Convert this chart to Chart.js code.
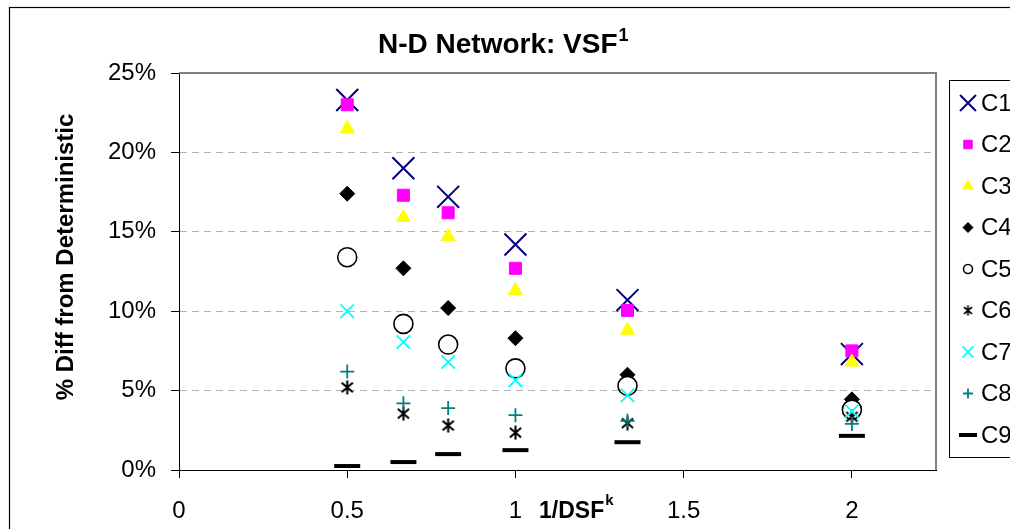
<!DOCTYPE html>
<html>
<head>
<meta charset="utf-8">
<script src="https://cdn.jsdelivr.net/npm/chart.js@4.4.0/dist/chart.umd.min.js"></script>
<style>
    html, body { margin: 0; padding: 0; background: #fff; overflow: hidden; }
    #wrap { width: 1010px; height: 529px; }
</style>
</head>
<body>
<div id="wrap"><canvas id="chart" width="1010" height="529"></canvas></div>
<script>
// 1/DSF values on the x axis
const xValues = [0.5, 0.667, 0.8, 1, 1.333, 2];
const seriesNames = ['C1', 'C2', 'C3', 'C4', 'C5', 'C6', 'C7', 'C8', 'C9'];
// % diff from deterministic, one array per series
const c1 = [23.3, 19.0, 17.2, 14.2, 10.7, 7.3];
const c2 = [23.0, 17.3, 16.2, 12.7, 10.05, 7.5];
const c3 = [21.5, 15.9, 14.7, 11.3, 8.8, 6.8];
const c4 = [17.4, 12.7, 10.2, 8.3, 6.0, 4.45];
const c5 = [13.4, 9.2, 7.9, 6.4, 5.3, 3.8];
const c6 = [5.2, 3.55, 2.8, 2.35, 2.95, 3.35];
const c7 = [10.0, 8.05, 6.8, 5.65, 4.7, 3.7];
const c8 = [6.2, 4.2, 3.9, 3.45, 3.1, 2.9];
const c9 = [0.25, 0.5, 1.0, 1.25, 1.75, 2.15];
const xTicks = [0, 0.5, 1, 1.5, 2];
const yTicks = [0, 5, 10, 15, 20, 25];

const FONT = '"Liberation Sans", Arial, sans-serif';

// excel style asterisk marker (vertical bar + x)
function asterisk(size, lw) {
    const c = document.createElement('canvas');
    c.width = size; c.height = size;
    const g = c.getContext('2d');
    g.strokeStyle = '#000';
    g.lineWidth = lw;
    const h = size / 2, r = h - 0.5, d = r * 0.8;
    g.beginPath();
    g.moveTo(h, h - r); g.lineTo(h, h + r);
    g.moveTo(h - d, h - d * 0.85); g.lineTo(h + d, h + d * 0.85);
    g.moveTo(h + d, h - d * 0.85); g.lineTo(h - d, h + d * 0.85);
    g.stroke();
    return c;
}

const styles = [
    { pointStyle: 'crossRot', radius: 15.5, borderWidth: 2, color: '#000080', fill: '#000080', lr: 11.3 },
    { pointStyle: 'rect', radius: 8.5, borderWidth: 1, color: '#FF00FF', fill: '#FF00FF', lr: 6 },
    { pointStyle: 'triangle', radius: 8, borderWidth: 1, color: '#FFFF00', fill: '#FFFF00', lr: 6 },
    { pointStyle: 'rectRot', radius: 7.5, borderWidth: 1, color: '#000000', fill: '#000000', lr: 5 },
    { pointStyle: 'circle', radius: 9.5, borderWidth: 1.6, color: '#000000', fill: '#FFFFFF', lr: 4.5 },
    { pointStyle: asterisk(15, 2.1), radius: 7, borderWidth: 1, color: '#000000', fill: '#000000', lr: 5, legendStyle: asterisk(11, 1.8) },
    { pointStyle: 'crossRot', radius: 9.5, borderWidth: 1.8, color: '#00FFFF', fill: '#00FFFF', lr: 7.8 },
    { pointStyle: 'cross', radius: 7, borderWidth: 1.8, color: '#008080', fill: '#008080', lr: 5 },
    { pointStyle: 'line', radius: 13, borderWidth: 4, color: '#000000', fill: '#000000', lr: 9 }
];

const seriesValues = [c1, c2, c3, c4, c5, c6, c7, c8, c9];

const datasets = seriesValues.map((vals, i) => ({
    label: seriesNames[i],
    data: xValues.map((x, j) => ({ x: x, y: vals[j] })),
    pointStyle: styles[i].pointStyle,
    pointRadius: styles[i].radius,
    pointHoverRadius: styles[i].radius,
    pointBorderWidth: styles[i].borderWidth,
    borderColor: styles[i].color,
    backgroundColor: styles[i].fill,
    showLine: false,
    order: 9 - i
}));

const decor = {
    id: 'decor',
    afterDraw(chart) {
        const { ctx, chartArea: a } = chart;
        ctx.save();
        // plot frame (top / right)
        ctx.strokeStyle = '#808080';
        ctx.lineWidth = 2;
        ctx.beginPath();
        ctx.moveTo(a.left, a.top);
        ctx.lineTo(a.right, a.top);
        ctx.lineTo(a.right, a.bottom);
        ctx.stroke();

        // outer chart border
        ctx.strokeStyle = '#000';
        ctx.lineWidth = 1.2;
        ctx.strokeRect(9.5, 7.5, 1100, 600);

        ctx.fillStyle = '#000';
        // title with superscript
        ctx.textAlign = 'left';
        ctx.textBaseline = 'alphabetic';
        ctx.font = 'bold 28px ' + FONT;
        const t = 'N-D Network: VSF';
        ctx.fillText(t, 378, 53);
        const tw = ctx.measureText(t).width;
        ctx.font = 'bold 18px ' + FONT;
        ctx.fillText('1', 378 + tw + 1, 41);

        // x title
        ctx.font = 'bold 23px ' + FONT;
        const xt = '1/DSF';
        ctx.fillText(xt, 539, 518);
        const xw = ctx.measureText(xt).width;
        ctx.font = 'bold 15px ' + FONT;
        ctx.fillText('k', 539 + xw + 1, 505);

        // y title
        ctx.save();
        ctx.translate(73, 257);
        ctx.rotate(-Math.PI / 2);
        ctx.textAlign = 'center';
        ctx.font = 'bold 24px ' + FONT;
        ctx.fillText('% Diff from Deterministic', 0, 0);
        ctx.restore();

        // legend box
        ctx.strokeStyle = '#000';
        ctx.lineWidth = 1;
        ctx.strokeRect(949.5, 80.5, 120, 377);
        chart.data.datasets.forEach((ds, i) => {
            const st = styles[i];
            const y = 103 + i * 41.5;
            ctx.fillStyle = ds.backgroundColor;
            ctx.strokeStyle = ds.borderColor;
            ctx.lineWidth = ds.pointBorderWidth;
            Chart.helpers.drawPoint(ctx, {
                pointStyle: st.legendStyle || ds.pointStyle,
                radius: st.lr,
                rotation: 0,
                borderWidth: ds.pointBorderWidth
            }, 968, y);
            ctx.fillStyle = '#000';
            ctx.font = '24px ' + FONT;
            ctx.textBaseline = 'middle';
            ctx.textAlign = 'left';
            ctx.fillText(ds.label, 981, y + 1);
        });
        ctx.restore();
    }
};

new Chart(document.getElementById('chart'), {
    type: 'scatter',
    data: { datasets: datasets },
    plugins: [decor],
    options: {
        responsive: false,
        animation: false,
        layout: { padding: { left: 0, top: 73, right: 74, bottom: 0 } },
        plugins: {
            legend: { display: false },
            tooltip: { enabled: false },
            title: { display: false }
        },
        scales: {
            x: {
                type: 'linear',
                min: 0,
                max: 2.25,
                afterBuildTicks: s => { s.ticks = xTicks.map(v => ({ value: v })); },
                afterFit: s => { s.height = 59; },
                grid: { drawOnChartArea: false, tickLength: 8, tickColor: '#000' },
                border: { color: '#000', width: 1 },
                ticks: {
                    color: '#000',
                    font: { family: FONT, size: 24 },
                    padding: 19,
                    maxRotation: 0,
                    autoSkip: false,
                    callback: v => String(v)
                }
            },
            y: {
                min: 0,
                max: 25,
                afterBuildTicks: s => { s.ticks = yTicks.map(v => ({ value: v })); },
                afterFit: s => { s.width = 179; },
                grid: {
                    color: c => (c.tick && (c.tick.value === 0 || c.tick.value === 25)) ? 'rgba(0,0,0,0)' : '#B4B4B4',
                    tickColor: '#000',
                    tickLength: 8,
                    tickBorderDash: []
                },
                border: { color: '#000', width: 1, dash: [7, 5] },
                ticks: {
                    color: '#000',
                    font: { family: FONT, size: 24 },
                    padding: 15,
                    callback: v => v + '%'
                }
            }
        }
    }
});
</script>
</body>
</html>
